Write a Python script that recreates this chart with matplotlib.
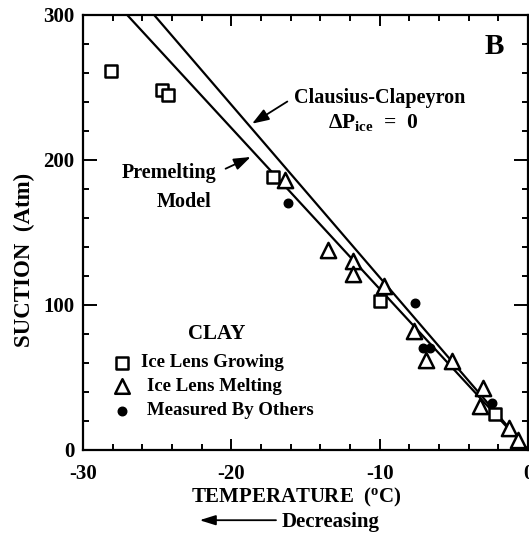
import numpy as np
import matplotlib
matplotlib.use("Agg")
import matplotlib.pyplot as plt
from matplotlib.patches import FancyArrowPatch
from matplotlib.ticker import MultipleLocator

plt.rcParams['font.family'] = ['Liberation Serif', 'DejaVu Serif']
plt.rcParams['font.weight'] = 'bold'
plt.rcParams['mathtext.default'] = 'regular'
plt.rcParams['axes.unicode_minus'] = False

# Measured freezing-point data (temperature in deg C, suction in atm)
growing_t = [-28.1, -24.7, -24.3, -17.2, -10.0, -2.2]
growing_s = [261, 248, 245, 188, 103, 25]

melting_t = [-16.4, -13.5, -11.8, -11.8, -9.7, -7.7, -6.9, -5.1, -3.0, -3.2, -1.3, -0.7]
melting_s = [186, 138, 130, 121, 113, 82, 62, 61, 43, 30, 15, 7]

others_t = [-16.2, -7.6, -7.1, -6.6, -2.4]
others_s = [170, 101, 70, 70, 32]

# Model lines (slope in atm per deg C, through the origin)
clapeyron_slope = 11.9
premelting_slope = 11.1
line_t = [-30.0, 0.0]

x_major = [-30, -20, -10, 0]
y_major = [0, 100, 200, 300]

fig = plt.figure(figsize=(5.29, 5.33), dpi=100)
ax = fig.add_axes([0.157, 0.156, 0.841, 0.816])

t = np.array(line_t)
ax.plot(t, -clapeyron_slope * t, color='black', lw=1.6, zorder=2)
ax.plot(t, -premelting_slope * t, color='black', lw=1.6, zorder=2)

ax.scatter(growing_t, growing_s, marker='s', s=70, facecolors='white',
           edgecolors='black', linewidths=1.8, zorder=3)
ax.scatter(melting_t, melting_s, marker='^', s=120, facecolors='white',
           edgecolors='black', linewidths=1.8, zorder=3)
ax.scatter(others_t, others_s, marker='o', s=38, color='black', zorder=4)

ax.set_xlim(-30, 0)
ax.set_ylim(0, 300)
ax.set_xticks(x_major)
ax.set_yticks(y_major)
ax.xaxis.set_minor_locator(MultipleLocator(2))
ax.yaxis.set_minor_locator(MultipleLocator(20))

for sp in ax.spines.values():
    sp.set_linewidth(1.6)

ax.tick_params(which='both', direction='in', top=True, right=True, width=1.4,
               labelsize=15)
ax.tick_params(axis='x', which='major', length=8, pad=10)
ax.tick_params(axis='x', which='minor', length=4.5)
ax.tick_params(axis='y', which='major', length=10, pad=6)
ax.tick_params(axis='y', which='minor', length=4.5)
for lab in ax.get_xticklabels() + ax.get_yticklabels():
    lab.set_fontweight('bold')

ax.set_ylabel('SUCTION  (Atm)', fontsize=16.5, fontweight='bold')
ax.yaxis.set_label_coords(-0.108, 0.437)

fig.text(0.56, 0.067, r'TEMPERATURE  ($^{o}$C)', fontsize=15, fontweight='bold',
         ha='center', va='center')
fig.text(0.533, 0.02, 'Decreasing', fontsize=15, fontweight='bold',
         ha='left', va='center')
fig.add_artist(FancyArrowPatch(
    (0.527, 0.024), (0.372, 0.024), transform=fig.transFigure,
    arrowstyle='-|>,head_length=0.8,head_width=0.25', lw=1.3, color='black',
    mutation_scale=12))

ax.text(-2.3, 278, 'B', fontsize=21, fontweight='bold', ha='center', va='center')

arrow_style = '-|>,head_length=0.7,head_width=0.25'
ax.annotate('Clausius-Clapeyron', xy=(-18.6, 225), xytext=(-15.8, 243),
            fontsize=14.5, fontweight='bold', ha='left', va='center',
            arrowprops=dict(arrowstyle=arrow_style, color='black', lw=1.3,
                            relpos=(0, 0.5), shrinkA=3, shrinkB=0))
ax.text(-10.4, 226, r'ΔP$_{ice}$  =  0', fontsize=15.5, fontweight='bold',
        ha='center', va='center')

ax.annotate('Premelting', xy=(-18.7, 202), xytext=(-21.0, 191),
            fontsize=14.5, fontweight='bold', ha='right', va='center',
            arrowprops=dict(arrowstyle=arrow_style, color='black', lw=1.3,
                            relpos=(1, 0.5), shrinkA=5, shrinkB=0))
ax.text(-23.2, 171, 'Model', fontsize=14.5, fontweight='bold', ha='center', va='center')

ax.text(-21.0, 80, 'CLAY', fontsize=15, fontweight='bold', ha='center', va='center')
legend_rows = [('s', 'Ice Lens Growing', 60, -26.1),
               ('^', 'Ice Lens Melting', 44, -25.7),
               ('o', 'Measured By Others', 27, -25.7)]
for mk, label, yy, tx in legend_rows:
    if mk == 'o':
        ax.scatter([-27.4], [yy], marker=mk, s=38, color='black')
    else:
        ax.scatter([-27.4], [yy], marker=mk, s=70 if mk == 's' else 110,
                   facecolors='white', edgecolors='black', linewidths=1.8)
    ax.text(tx, yy, label, fontsize=13.5, fontweight='bold', ha='left', va='center')

fig.savefig('out.png', dpi=100)
